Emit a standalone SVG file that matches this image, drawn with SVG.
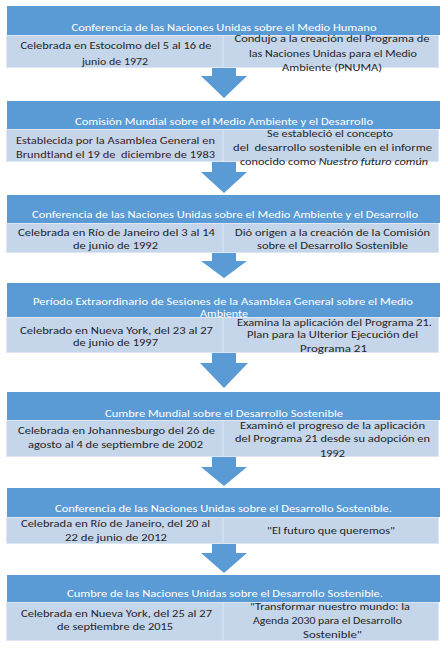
<svg xmlns="http://www.w3.org/2000/svg" width="448" height="650" viewBox="0 0 448 650">
<defs>
<style>
.hd{fill:#5b9bd5}
.lt{fill:#c5d5ea;stroke:#dde7f3;stroke-width:1}
.dv{stroke:#dde7f3;stroke-width:1}
.arw{fill:#5b9bd5}
text{font-family:Carlito,Lato,"Liberation Sans",sans-serif;font-size:11px;text-anchor:middle}
.ht{fill:#ffffff}
.bt{fill:#262626}
.mr{fill:#3b1c1c}
</style>
</defs>
<rect width="448" height="650" fill="#ffffff"/>

<g id="connectors">
<path class="arw" d="M212,68 H236 V76 H247 L224,98 L201,76 H212 Z"/>
<path class="arw" d="M212,162 H236 V172 H247 L224,193 L201,172 H212 Z"/>
<path class="arw" d="M212,253 H236 V261 H247 L224,278 L201,261 H212 Z"/>
<path class="arw" d="M212,353 H236 V363 H248 L224,388 L200,363 H212 Z"/>
<path class="arw" d="M212,457 H236 V467 H247 L224,486 L201,467 H212 Z"/>
<path class="arw" d="M212,544 H236 V553 H247 L224,573 L201,553 H212 Z"/>
</g>

<g id="node1">
<rect class="hd" x="7" y="6" width="433" height="29"/>
<rect class="lt" x="6.5" y="35.5" width="432" height="32"/>
<line class="dv" x1="223" y1="36" x2="223" y2="67"/>
<text class="ht" x="224" y="31" textLength="305" lengthAdjust="spacingAndGlyphs">Conferencia de las Naciones Unidas sobre el Medio Humano</text>
<text class="bt" x="116" y="49" textLength="191" lengthAdjust="spacingAndGlyphs">Celebrada en Estocolmo del 5 al 16 de</text>
<text class="bt" x="115" y="65" textLength="66" lengthAdjust="spacingAndGlyphs">junio de 1972</text>
<text class="bt" x="332" y="42" textLength="195" lengthAdjust="spacingAndGlyphs">Condujo a la creación del Programa de</text>
<text class="bt" x="333" y="57" textLength="168" lengthAdjust="spacingAndGlyphs">las Naciones Unidas para el Medio</text>
<text class="bt" x="332" y="71" textLength="100" lengthAdjust="spacingAndGlyphs">Ambiente (PNUMA)</text>
</g>

<g id="node2">
<rect class="hd" x="7" y="101" width="433" height="28"/>
<rect class="lt" x="6.5" y="129.5" width="432" height="32"/>
<line class="dv" x1="223" y1="130" x2="223" y2="161"/>
<text class="ht" x="224" y="125" textLength="298" lengthAdjust="spacingAndGlyphs">Comisión Mundial sobre el Medio Ambiente y el Desarrollo</text>
<text class="mr" x="115.5" y="144" textLength="199" lengthAdjust="spacingAndGlyphs">Establecida por la Asamblea General en</text>
<text class="mr" x="115.5" y="158" textLength="199" lengthAdjust="spacingAndGlyphs" xml:space="preserve">Brundtland el 19 de  diciembre de 1983</text>
<text class="bt" x="330" y="137" textLength="126" lengthAdjust="spacingAndGlyphs">Se estableció el concepto</text>
<text class="bt" x="332.5" y="151" textLength="199" lengthAdjust="spacingAndGlyphs" xml:space="preserve">del  desarrollo sostenible en el informe</text>
<text class="bt" x="334" y="165" textLength="188" lengthAdjust="spacingAndGlyphs">conocido como <tspan font-style="italic">Nuestro futuro común</tspan></text>
</g>

<g id="node3">
<rect class="hd" x="7" y="195" width="433" height="28"/>
<rect class="lt" x="6.5" y="223.5" width="432" height="29"/>
<line class="dv" x1="223" y1="224" x2="223" y2="252"/>
<text class="ht" x="225" y="218" textLength="386" lengthAdjust="spacingAndGlyphs">Conferencia de las Naciones Unidas sobre el Medio Ambiente y el Desarrollo</text>
<text class="bt" x="116.5" y="236" textLength="197" lengthAdjust="spacingAndGlyphs">Celebrada en Río de Janeiro del 3 al 14</text>
<text class="bt" x="115.5" y="249" textLength="85" lengthAdjust="spacingAndGlyphs">de junio de 1992</text>
<text class="bt" x="332.5" y="236" textLength="195" lengthAdjust="spacingAndGlyphs">Dió origen a la creación de la Comisión</text>
<text class="bt" x="332.5" y="249" textLength="151" lengthAdjust="spacingAndGlyphs">sobre el Desarrollo Sostenible</text>
</g>

<g id="node4">
<rect class="hd" x="7" y="283" width="433" height="34"/>
<rect class="lt" x="6.5" y="317.5" width="432" height="35"/>
<line class="dv" x1="223" y1="318" x2="223" y2="352"/>
<text class="ht" x="223" y="305" textLength="380" lengthAdjust="spacingAndGlyphs">Período Extraordinario de Sesiones de la Asamblea General sobre el Medio</text>
<text class="ht" x="224" y="317" textLength="48" lengthAdjust="spacingAndGlyphs">Ambiente</text>
<text class="bt" x="116.5" y="334" textLength="193" lengthAdjust="spacingAndGlyphs">Celebrado en Nueva York, del 23 al 27</text>
<text class="bt" x="115.5" y="346" textLength="85" lengthAdjust="spacingAndGlyphs">de junio de 1997</text>
<text class="bt" x="334.5" y="326" textLength="195" lengthAdjust="spacingAndGlyphs">Examina la aplicación del Programa 21.</text>
<text class="bt" x="332.5" y="338" textLength="171" lengthAdjust="spacingAndGlyphs">Plan para la Ulterior Ejecución del</text>
<text class="bt" x="333.5" y="352" textLength="67" lengthAdjust="spacingAndGlyphs">Programa 21</text>
</g>

<g id="node5">
<rect class="hd" x="7" y="392" width="433" height="28"/>
<rect class="lt" x="6.5" y="420.5" width="432" height="36"/>
<line class="dv" x1="223" y1="421" x2="223" y2="456"/>
<text class="ht" x="224" y="417" textLength="238" lengthAdjust="spacingAndGlyphs">Cumbre Mundial sobre el Desarrollo Sostenible</text>
<text class="bt" x="116.5" y="434" textLength="197" lengthAdjust="spacingAndGlyphs">Celebrada en Johannesburgo del 26 de</text>
<text class="bt" x="115.5" y="448" textLength="175" lengthAdjust="spacingAndGlyphs">agosto al 4 de septiembre de 2002</text>
<text class="bt" x="332.5" y="429" textLength="185" lengthAdjust="spacingAndGlyphs">Examinó el progreso de la aplicación</text>
<text class="bt" x="332.5" y="442" textLength="195" lengthAdjust="spacingAndGlyphs">del Programa 21 desde su adopción en</text>
<text class="bt" x="332.5" y="457" textLength="25" lengthAdjust="spacingAndGlyphs">1992</text>
</g>

<g id="node6">
<rect class="hd" x="7" y="488" width="433" height="29"/>
<rect class="lt" x="6.5" y="517.5" width="432" height="26"/>
<line class="dv" x1="223" y1="518" x2="223" y2="543"/>
<text class="ht" x="223.5" y="512" textLength="337" lengthAdjust="spacingAndGlyphs">Conferencia de las Naciones Unidas sobre el Desarrollo Sostenible.</text>
<text class="bt" x="115.5" y="527" textLength="189" lengthAdjust="spacingAndGlyphs">Celebrada en Río de Janeiro, del 20 al</text>
<text class="bt" x="116" y="541" textLength="102" lengthAdjust="spacingAndGlyphs">22 de junio de 2012</text>
<text class="bt" x="331" y="534" textLength="128" lengthAdjust="spacingAndGlyphs">"El futuro que queremos"</text>
</g>

<g id="node7">
<rect class="hd" x="7" y="575" width="433" height="27"/>
<rect class="lt" x="6.5" y="602.5" width="432" height="38"/>
<line class="dv" x1="223" y1="603" x2="223" y2="640"/>
<text class="ht" x="225" y="597" textLength="316" lengthAdjust="spacingAndGlyphs">Cumbre de las Naciones Unidas sobre el Desarrollo Sostenible.</text>
<text class="bt" x="116.5" y="617" textLength="191" lengthAdjust="spacingAndGlyphs">Celebrada en Nueva York, del 25 al 27</text>
<text class="bt" x="115" y="630" textLength="116" lengthAdjust="spacingAndGlyphs">de septiembre de 2015</text>
<text class="bt" x="330" y="610" textLength="160" lengthAdjust="spacingAndGlyphs">"Transformar nuestro mundo: la</text>
<text class="bt" x="327.5" y="624" textLength="149" lengthAdjust="spacingAndGlyphs">Agenda 2030 para el Desarrollo</text>
<text class="bt" x="332.5" y="638" textLength="59" lengthAdjust="spacingAndGlyphs">Sostenible"</text>
</g>
</svg>
